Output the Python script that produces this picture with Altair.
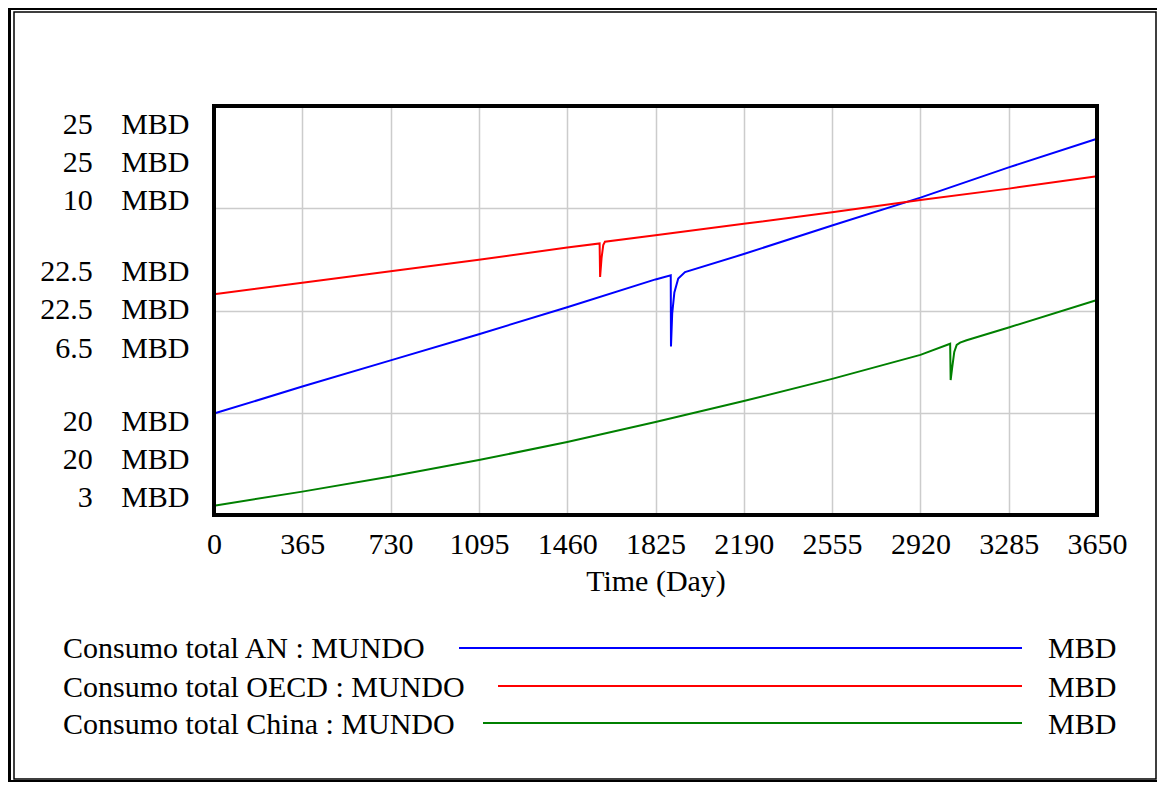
import json
import altair as alt
import pandas as pd

# ---------------- data ----------------
x_ticks = [0, 365, 730, 1095, 1460, 1825, 2190, 2555, 2920, 3285, 3650]

an_t = [0, 365, 730, 1095, 1460, 1825, 1888, 1889, 1894, 1903, 1919, 1947,
        2190, 2555, 2920, 3285, 3650]
an_v = [21.24, 21.57, 21.89, 22.21, 22.54, 22.88, 22.93, 22.06, 22.46, 22.72,
        22.89, 22.97, 23.19, 23.54, 23.88, 24.25, 24.60]

oecd_t = [0, 365, 730, 1095, 1460, 1594, 1596, 1602, 1609, 1616,
          1825, 2190, 2555, 2920, 3285, 3650]
oecd_v = [22.70, 22.84, 22.98, 23.12, 23.27, 23.32, 22.91, 23.14, 23.30, 23.34,
          23.42, 23.56, 23.70, 23.85, 23.99, 24.14]

china_t = [0, 365, 730, 1095, 1460, 1825, 2190, 2555, 2920, 3043, 3045, 3051,
           3060, 3070, 3084, 3111, 3285, 3650]
china_v = [3.16, 3.40, 3.66, 3.94, 4.25, 4.59, 4.95, 5.33, 5.74, 5.93, 5.31, 5.51,
           5.79, 5.91, 5.95, 5.99, 6.21, 6.68]

an_ticks = [20, 22.5, 25]
oecd_ticks = [20, 22.5, 25]
china_ticks = [3, 6.5, 10]
an_domain = [20, 25]
oecd_domain = [20, 25]
china_domain = [3, 10]
unit = "MBD"

legend_labels = ["Consumo total AN : MUNDO",
                 "Consumo total OECD : MUNDO",
                 "Consumo total China : MUNDO"]
colors = ["#0000ff", "#ff0000", "#008000"]

# ---------------- styling ----------------
FONT = "Liberation Serif"
FS = 30
W, H = 883, 409
GRID = "#cccccc"

def fmt(v):
    return "%g" % v

gap = "\u00a0\u00a0\u00a0\u2009"
cases = []
for a, o, c in zip(an_ticks, oecd_ticks, china_ticks):
    lines = [f"{fmt(a)}{gap}{unit}", f"{fmt(o)}{gap}{unit}", f"{fmt(c)}{gap}{unit}"]
    cases.append(f"datum.value == {a} ? {json.dumps(lines, ensure_ascii=False)} : ")
label_expr = "".join(cases) + "''"

y_vals = [an_domain[0], (an_domain[0] + an_ticks[1]) / 2, an_ticks[1],
          (an_ticks[1] + an_domain[1]) / 2, an_domain[1]]

# label blocks: below the top tick, centred on the middle tick, above the bottom tick
label_offset = {
    "condition": [
        {"test": f"datum.value == {an_ticks[0]}", "value": -109},
        {"test": f"datum.value == {an_ticks[1]}", "value": -54},
    ],
    "value": 3,
}

x_enc = alt.X("t:Q",
              scale=alt.Scale(domain=[x_ticks[0], x_ticks[-1]], nice=False, zero=False),
              axis=alt.Axis(values=x_ticks, format="d", grid=True, gridColor=GRID,
                            gridWidth=1.5, ticks=False, tickSize=0, domain=False,
                            labelFont=FONT, labelFontSize=FS, labelColor="black",
                            labelPadding=14, labelFlush=False, labelOverlap=False,
                            title="Time (Day)", titleFont=FONT, titleFontSize=FS,
                            titleFontWeight="normal", titleColor="black",
                            titlePadding=7))

df_an = pd.DataFrame({"t": an_t, "v": an_v})
df_oecd = pd.DataFrame({"t": oecd_t, "v": oecd_v})
df_china = pd.DataFrame({"t": china_t, "v": china_v})

an_line = alt.Chart(df_an).mark_line(color=colors[0], strokeWidth=2).encode(
    x=x_enc,
    y=alt.Y("v:Q", scale=alt.Scale(domain=an_domain, nice=False, zero=False),
            axis=alt.Axis(values=y_vals, labelExpr=label_expr, grid=True,
                          gridColor=GRID, gridWidth=1.5, ticks=False, tickSize=0,
                          domain=False, labelFont=FONT, labelFontSize=FS,
                          labelColor="black", labelLineHeight=38.3, labelPadding=25,
                          labelAlign="right", labelBaseline="top", labelFlush=False,
                          labelOffset=label_offset, labelOverlap=False, title=None)))

oecd_line = alt.Chart(df_oecd).mark_line(color=colors[1], strokeWidth=2).encode(
    x="t:Q",
    y=alt.Y("v:Q", scale=alt.Scale(domain=oecd_domain, nice=False, zero=False), axis=None))

china_line = alt.Chart(df_china).mark_line(color=colors[2], strokeWidth=2).encode(
    x="t:Q",
    y=alt.Y("v:Q", scale=alt.Scale(domain=china_domain, nice=False, zero=False), axis=None))

dummy = pd.DataFrame({"d": [0]})

border = alt.Chart(dummy).mark_rect(filled=False, stroke="black", strokeWidth=4).encode(
    x=alt.value(0), x2=alt.value(W), y=alt.value(0), y2=alt.value(H))

# legend rows (pixel layout relative to plot area)
leg_text_y = [552, 591, 628]
leg_line_y = [542, 580, 617]
leg_line_x0 = [245, 284, 269]
leg_line_x1 = 808
leg_text_x = -151
leg_unit_x = 834

legend_layers = []
for lab, col, ty, ly, lx in zip(legend_labels, colors, leg_text_y, leg_line_y, leg_line_x0):
    legend_layers.append(
        alt.Chart(pd.DataFrame({"s": [lab]})).mark_text(
            font=FONT, fontSize=FS, align="left", baseline="alphabetic", color="black"
        ).encode(text="s:N", x=alt.value(leg_text_x), y=alt.value(ty)))
    legend_layers.append(
        alt.Chart(dummy).mark_rule(color=col, strokeWidth=2).encode(
            x=alt.value(lx), x2=alt.value(leg_line_x1), y=alt.value(ly)))
    legend_layers.append(
        alt.Chart(pd.DataFrame({"s": [unit]})).mark_text(
            font=FONT, fontSize=FS, align="left", baseline="alphabetic", color="black"
        ).encode(text="s:N", x=alt.value(leg_unit_x), y=alt.value(ty)))

# outer frame
frame_left = alt.Chart(dummy).mark_rect(color="black").encode(
    x=alt.value(-206), x2=alt.value(-203), y=alt.value(-98), y2=alt.value(676))
frame_top = alt.Chart(dummy).mark_rect(color="black").encode(
    x=alt.value(-206), x2=alt.value(943), y=alt.value(-98), y2=alt.value(-96))
frame_bottom = alt.Chart(dummy).mark_rect(color="black").encode(
    x=alt.value(-206), x2=alt.value(943), y=alt.value(674), y2=alt.value(676))
frame_thin = alt.Chart(dummy).mark_rect(filled=False, stroke="black", strokeWidth=1.5).encode(
    x=alt.value(-200), x2=alt.value(942), y=alt.value(-94), y2=alt.value(673))

chart = alt.layer(
    an_line, oecd_line, china_line, border,
    *legend_layers, frame_left, frame_top, frame_bottom, frame_thin
).resolve_scale(y="independent").properties(
    width=W, height=H, padding=0, background="white"
).configure_view(strokeWidth=0)

chart.save("out.html", embed_options={"renderer": "svg", "actions": False})
